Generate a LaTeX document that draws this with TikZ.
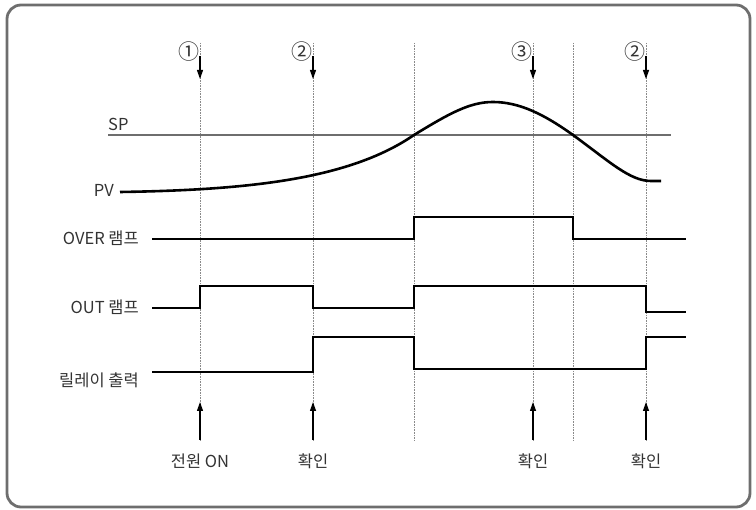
\documentclass[tikz,border=0pt]{standalone}
\usepackage{fontspec}
\setmainfont{Noto Sans CJK KR}
\usepackage{tikz}
\usetikzlibrary{positioning, arrows.meta, calc}

\definecolor{framegray}{HTML}{6E6E6E}
\definecolor{textgray}{HTML}{333333}
\definecolor{guidegray}{HTML}{8A8A8A}

\begin{document}
\begin{tikzpicture}[x=1pt, y=-1pt, >={Triangle[width=6pt, length=9pt]},
    every node/.style={font=\fontsize{16.5}{19}\selectfont, text=textgray, inner sep=0pt},
    signal/.style={line width=2.4pt, line join=miter},
    guide/.style={densely dotted, line width=0.6pt, color=guidegray},
    numlabel/.style={font=\fontsize{21}{23}\selectfont}]
    \useasboundingbox (0,0) rectangle (756,510);
    % Frame
    \draw[framegray, line width=2.8pt, rounded corners=14pt] (7,5) rectangle (750,507);
    % Vertical guides
    \foreach \x/\n in {200/a, 313/b, 414/c, 533/d, 573/e, 646/f} {
        \coordinate (top\n) at (\x,43);
        \coordinate (bot\n) at (\x,440);
        \draw[guide] (top\n) -- (bot\n);
    }
    % Down arrows with circled numbers
    \foreach \x/\m/\n in {200/①/a, 313/②/b, 533/③/d, 646/②/f} {
        \node[numlabel] (num\n) at (\x-11,52) {\m};
        \coordinate (dn\n) at (\x,56);
        \coordinate (dt\n) at (\x,79);
        \draw[->, line width=1.2pt] (dn\n) -- (dt\n);
    }
    % SP line
    \node[anchor=south west] (sp) at (108,131) {SP};
    \coordinate (spend) at (671,135);
    \draw[line width=1.2pt, color=framegray] (sp.south west |- spend) -- (spend);
    % PV curve
    \node[anchor=east] (pv) at (114,190) {PV};
    \draw[signal, line width=2.6pt] (pv.east) ++(6,2)
        .. controls (250,190) and (350,179) .. (414,135)
        .. controls (450,113) and (470,102) .. (493,102)
        .. controls (520,102) and (545,115) .. (573,135)
        .. controls (610,162) and (630,181) .. (651,181) -- (661,181);
    % OVER lamp
    \node[anchor=east] (over) at (139,238) {OVER 램프};
    \draw[signal] (152,239) -- (414,239) -- (414,217) -- (573,217) -- (573,239) -- (686,239);
    % OUT lamp
    \node[anchor=east] (out) at (139,307) {OUT 램프};
    \draw[signal] (152,308) -- (200,308) -- (200,286) -- (313,286) -- (313,308)
        -- (414,308) -- (414,286) -- (646,286) -- (646,312) -- (686,312);
    % Relay output
    \node[anchor=east] (relay) at (139,380) {릴레이 출력};
    \draw[signal] (152,372) -- (313,372) -- (313,337) -- (414,337) -- (414,369)
        -- (646,369) -- (646,337) -- (686,337);
    % Up arrows with labels
    \foreach \x/\t/\n in {200/전원 ON/a, 313/확인/b, 533/확인/d, 646/확인/f} {
        \node (lb\n) at (\x,461) {\t};
        \coordinate (ut\n) at (\x,402);
        \draw[->, line width=1.2pt] (bot\n) -- (ut\n);
    }
\end{tikzpicture}
\end{document}
